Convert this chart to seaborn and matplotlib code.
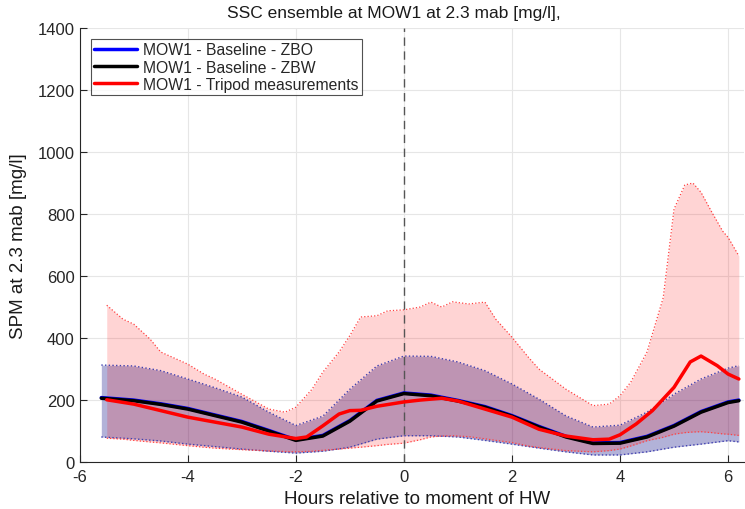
import numpy as np
import pandas as pd
import matplotlib
matplotlib.use("Agg")
import matplotlib.pyplot as plt
import seaborn as sns

# model ensemble (ZBO / ZBW), hours relative to HW
model_hours = [-5.6, -5, -4.5, -4, -3.5, -3, -2.5, -2, -1.5, -1, -0.5, 0, 0.5,
               1, 1.5, 2, 2.5, 3, 3.5, 4, 4.5, 5, 5.5, 6, 6.2]
zbw_mean = [206, 198, 186, 171, 150, 129, 100, 70, 84, 132, 197, 221, 214,
            197, 177, 148, 113, 81, 60, 61, 81, 116, 161, 192, 198]
zbo_mean = [208, 200, 188, 173, 152, 131, 102, 72, 86, 134, 199, 223, 216,
            199, 179, 150, 115, 83, 62, 63, 83, 118, 163, 194, 200]
zbo_upper = [313, 310, 295, 268, 240, 210, 161, 118, 148, 235, 310, 342, 341,
             323, 295, 252, 203, 149, 113, 119, 161, 219, 268, 303, 311]
zbo_lower = [81, 75, 68, 58, 50, 42, 35, 29, 35, 48, 74, 85, 85,
             81, 70, 58, 45, 33, 23, 23, 33, 48, 58, 69, 65]

# tripod measurements
tripod_hours = [-5.5, -5, -4.5, -4, -3.5, -3, -2.5, -2, -1.8, -1.5, -1.2, -1,
                -0.8, -0.5, 0, 0.3, 0.7, 1, 1.5, 2, 2.5, 3, 3.5, 3.8, 4, 4.3,
                4.6, 5, 5.3, 5.5, 5.8, 6, 6.2]
tripod_mean = [201, 187, 166, 145, 129, 113, 90, 76, 81, 117, 155, 166,
               167, 180, 194, 200, 206, 197, 171, 145, 106, 84, 72, 74, 88, 123,
               166, 241, 323, 342, 311, 284, 268]

band_hours = [-5.5, -5.2, -5, -4.7, -4.5, -4, -3.7, -3.5, -3, -2.5, -2.2, -2,
              -1.7, -1.5, -1.2, -1, -0.8, -0.5, -0.3, 0, 0.3, 0.5, 0.7, 0.9,
              1.2, 1.5, 1.7, 2, 2.3, 2.5, 3, 3.5, 3.8, 4, 4.2, 4.5, 4.8, 5,
              5.2, 5.35, 5.5, 5.7, 5.9, 6, 6.2]
tripod_upper = [506, 461, 445, 397, 355, 316, 284, 268, 219, 171, 161, 177,
                235, 290, 355, 408, 468, 472, 488, 491, 500, 516, 500, 517,
                510, 516, 461, 403, 339, 300, 235, 182, 187, 214, 258, 355,
                530, 816, 894, 900, 870, 806, 745, 725, 665]
tripod_lower = [77, 74, 70, 65, 62, 53, 48, 45, 40, 36, 34, 33,
                35, 38, 42, 45, 48, 53, 57, 61, 72, 81, 84, 85,
                82, 75, 70, 63, 52, 47, 37, 33, 37, 42, 52, 69, 80, 90,
                95, 97, 98, 95, 91, 90, 86]

sns.set_style("white")
plt.rcParams['font.family'] = ['Liberation Sans', 'DejaVu Sans']
plt.rcParams['axes.unicode_minus'] = False

fig = plt.figure(figsize=(7.45, 5.10), dpi=100)
ax = fig.add_axes([0.107, 0.092, 0.892, 0.851])

# bands
ax.fill_between(model_hours, zbo_lower, zbo_upper, color='#000080', alpha=0.3, lw=0)
ax.plot(model_hours, zbo_upper, ':', color='#4040b0', lw=1)
ax.plot(model_hours, zbo_lower, ':', color='#4040b0', lw=1)
ax.fill_between(band_hours, tripod_lower, tripod_upper, color='#ff0000', alpha=0.17, lw=0)
ax.plot(band_hours, tripod_upper, ':', color='#ff4040', lw=0.9)
ax.plot(band_hours, tripod_lower, ':', color='#ff4040', lw=0.9)

ax.axvline(0, color='#555555', ls=(0, (6, 4)), lw=1)

model = pd.DataFrame({'hours': model_hours, 'zbo': zbo_mean, 'zbw': zbw_mean})
tripod = pd.DataFrame({'hours': tripod_hours, 'spm': tripod_mean})
sns.lineplot(data=model, x='hours', y='zbo', color='#0000ff', lw=2.5,
             label='MOW1 - Baseline - ZBO', ax=ax)
sns.lineplot(data=model, x='hours', y='zbw', color='black', lw=2.5,
             label='MOW1 - Baseline - ZBW', ax=ax)
sns.lineplot(data=tripod, x='hours', y='spm', color='#ff0000', lw=2.5,
             label='MOW1 - Tripod measurements', ax=ax)

ax.set_xlim(-6, 6.3)
ax.set_ylim(0, 1400)
ax.set_xticks(np.arange(-6, 7, 2))
ax.set_yticks(np.arange(0, 1401, 200))
ax.grid(True, color='#e6e6e6', lw=0.8)
ax.set_axisbelow(True)
for s in ['top', 'right']:
    ax.spines[s].set_visible(False)
for s in ['left', 'bottom']:
    ax.spines[s].set_color('#262626')
    ax.spines[s].set_linewidth(0.8)
ax.tick_params(direction='in', length=5, width=0.8, colors='#262626',
               labelsize=12, left=True, bottom=True)
ax.tick_params(axis='x', pad=5)

ax.set_title('SSC ensemble at MOW1 at 2.3 mab [mg/l],', fontsize=12.5, color='#1a1a1a',
             pad=8, x=0.472)
ax.set_xlabel('Hours relative to moment of HW', fontsize=13.5, color='#1a1a1a', labelpad=1)
ax.xaxis.set_label_coords(0.507, -0.065)
ax.set_ylabel('SPM at 2.3 mab [mg/l]', fontsize=13.5, color='#1a1a1a', labelpad=8)

leg = ax.legend(loc='upper left', fontsize=11.3, handlelength=2.75, frameon=True,
                fancybox=False, borderaxespad=0.7, borderpad=0.2,
                labelspacing=0.15, handletextpad=0.4)
leg.get_frame().set_edgecolor('#262626')
leg.get_frame().set_linewidth(0.8)

fig.savefig('out.png', dpi=100)
